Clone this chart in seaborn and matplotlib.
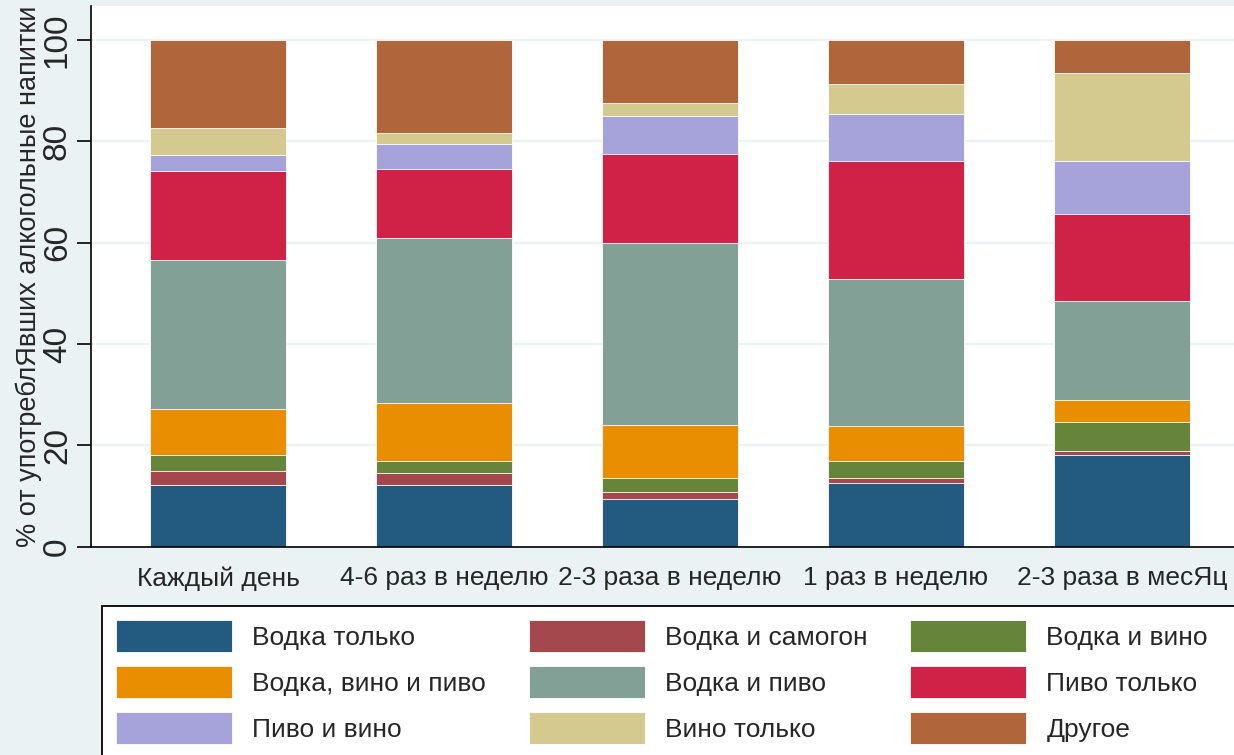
import matplotlib
matplotlib.use('Agg')
import matplotlib.pyplot as plt
import seaborn as sns
import pandas as pd
from matplotlib.patches import Patch, Rectangle

# частота употребления
freq = ['Каждый день', '4-6 раз в неделю', '2-3 раза в неделю', '1 раз в неделю', '2-3 раза в месЯц']

# доли по типам напитков (%), снизу вверх
vodka_only = [12.1, 12.1, 9.4, 12.5, 18.0]
vodka_samogon = [2.9, 2.4, 1.4, 1.1, 0.9]
vodka_wine = [3.0, 2.5, 2.7, 3.4, 5.8]
vodka_wine_beer = [9.1, 11.4, 10.6, 6.8, 4.3]
vodka_beer = [29.4, 32.5, 35.8, 29.0, 19.4]
beer_only = [17.6, 13.6, 17.5, 23.3, 17.3]
beer_wine = [3.1, 5.0, 7.5, 9.2, 10.5]
wine_only = [5.5, 2.2, 2.6, 6.0, 17.3]
other = [17.3, 18.3, 12.5, 8.7, 6.5]

labels = ['Водка только', 'Водка и самогон', 'Водка и вино',
          'Водка, вино и пиво', 'Водка и пиво', 'Пиво только',
          'Пиво и вино', 'Вино только', 'Другое']
colors = ['#225A80', '#A5484D', '#66843A', '#E98E00', '#82A096',
          '#D02146', '#A6A2DA', '#D4CA8F', '#B0653B']
series = [vodka_only, vodka_samogon, vodka_wine, vodka_wine_beer, vodka_beer,
          beer_only, beer_wine, wine_only, other]

BG = '#EAF2F3'

sns.set_theme(style='white')
plt.rcParams['font.family'] = ['Liberation Sans', 'DejaVu Sans']

df = pd.DataFrame({'freq': freq})
cum = [0.0] * len(freq)
cum_cols = []
for name, vals in zip(labels, series):
    cum = [a + b for a, b in zip(cum, vals)]
    df[name] = cum
    cum_cols.append(name)

fig = plt.figure(figsize=(12.34, 7.55), dpi=100, facecolor=BG)
ax = fig.add_axes([91 / 1234, 1 - 546.7 / 755, (1249 - 91) / 1234, (546.7 - 6) / 755])
ax.set_facecolor('white')

# рисуем накопленные суммы сверху вниз, чтобы получились сложенные столбцы
for name, c in reversed(list(zip(cum_cols, colors))):
    sns.barplot(data=df, x='freq', y=name, color=c, saturation=1, width=0.6,
                edgecolor='white', linewidth=0.6, order=freq, ax=ax, zorder=2)

ax.set_xlim(-0.562, 4.562)
ax.set_ylim(0, 106.7)
ax.set_yticks([0, 20, 40, 60, 80, 100])
ax.set_yticklabels(['0', '20', '40', '60', '80', '100'], rotation=90, va='center', fontsize=24)
ax.yaxis.grid(True, color=BG, linewidth=1.6, zorder=0)
ax.set_axisbelow(True)
ax.tick_params(axis='y', length=10, width=1.2, color='black', pad=3, left=True)
ax.tick_params(axis='x', length=0, pad=14, labelsize=19)
ax.set_xlabel('')
ax.set_ylabel('% от употреблЯвших алкогольные напитки', fontsize=19.5, labelpad=0)
for s in ['top', 'right']:
    ax.spines[s].set_visible(False)
for s in ['left', 'bottom']:
    ax.spines[s].set_color('black')
    ax.spines[s].set_linewidth(1.2)

# рамка легенды уходит за край картинки
fig.add_artist(Rectangle((102 / 1234, -0.05), 1.1, 1 - 606 / 755 + 0.05,
                         transform=fig.transFigure, facecolor='white',
                         edgecolor='black', linewidth=1.3, zorder=1))

# легенда заполняется по строкам: переставим элементы для ncol=3
order = [0, 3, 6, 1, 4, 7, 2, 5, 8]
handles = [Patch(facecolor=colors[i], edgecolor='white', linewidth=0.6) for i in order]
leg_labels = [labels[i] for i in order]
fs = 19
px = fs * 100 / 72
fig.legend(handles, leg_labels, loc='upper left', ncol=3, frameon=False,
           bbox_to_anchor=(116 / 1234, 1 - 620 / 755), borderpad=0, borderaxespad=0,
           fontsize=fs, handlelength=116 / px, handleheight=1.49,
           handletextpad=20 / px, labelspacing=14 / px, columnspacing=43 / px)

fig.savefig('out.png', dpi=100, facecolor=BG)
